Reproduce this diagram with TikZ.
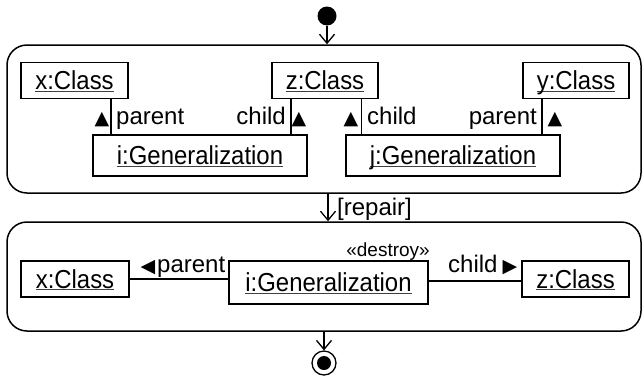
\documentclass[tikz,border=0pt]{standalone}
\usepackage{fontspec}
\setmainfont{Liberation Sans}
\newfontfamily\objfont[FakeStretch=0.92]{Liberation Sans}
\newfontfamily\trifont{DejaVu Sans}
\usetikzlibrary{arrows.meta}
\newsavebox{\ulbox}
\newcommand{\uln}[1]{\sbox{\ulbox}{#1}\rlap{\color{black!75}\rule[-2.4pt]{\wd\ulbox}{1.3pt}}\usebox{\ulbox}}
\begin{document}
\begin{tikzpicture}[x=1pt,y=-1pt,
  obj/.style={draw, line width=1.6pt, inner sep=0pt, text height=20pt, text depth=2pt,
              font=\objfont\fontsize{26}{29}\selectfont},
  cont/.style={draw, line width=1.5pt, rounded corners=20pt, inner sep=0pt},
  lbl/.style={inner sep=0pt, font=\fontsize{24}{28}\selectfont},
  tri/.style={inner sep=0pt, font=\trifont\fontsize{19}{19}\selectfont},
  flow/.style={line width=1.3pt, -{Straight Barb[length=9pt,width=15pt]}},
  link/.style={line width=1.5pt}]
\useasboundingbox (0,0) rectangle (644,378);
% containers
\node[cont, minimum width=634pt, minimum height=148pt] (top) at (324,119) {};
\node[cont, minimum width=634pt, minimum height=109pt] (bot) at (324,276.5) {};
% initial and final
\node[circle, fill, minimum size=19pt, inner sep=0pt] (init) at (327,16) {};
\node[circle, draw, line width=1.3pt, minimum size=24pt, inner sep=0pt] (fin) at (324,363) {};
\node[circle, fill, minimum size=14pt, inner sep=0pt] (finin) at (fin) {};
% top objects
\node[obj, minimum width=107pt, minimum height=36pt] (x1) at (74.5,80.5) {\uln{x:Class}};
\node[obj, minimum width=106pt, minimum height=36pt] (z1) at (325,80.5) {\uln{z:Class}};
\node[obj, minimum width=106pt, minimum height=36pt] (y1) at (576,80.5) {\uln{y:Class}};
\node[obj, minimum width=214pt, minimum height=41pt] (i1) at (200,155.5) {\uln{i:Generalization}};
\node[obj, minimum width=214pt, minimum height=41pt] (j1) at (453,155.5) {\uln{j:Generalization}};
\draw[link] ([xshift=36.5pt]x1.south) coordinate (a1) -- (a1 |- i1.north);
\draw[link] ([xshift=-34pt]z1.south) coordinate (a2) -- (a2 |- i1.north);
\draw[link] ([xshift=36.5pt]z1.south) coordinate (a3) -- (a3 |- j1.north);
\draw[link] ([xshift=-34pt]y1.south) coordinate (a4) -- (a4 |- j1.north);
\node[tri, anchor=base] (t1) at (102,124) {▲};
\node[lbl, anchor=base west] (l1) at (116,124) {parent};
\node[lbl, anchor=base east] (l2) at (286,124) {child};
\node[tri, anchor=base] (t2) at (299,124) {▲};
\node[tri, anchor=base] (t3) at (351,124) {▲};
\node[lbl, anchor=base west] (l3) at (367,124) {child};
\node[lbl, anchor=base east] (l4) at (537,124) {parent};
\node[tri, anchor=base] (t4) at (555,124) {▲};
% bottom objects
\node[obj, minimum width=108pt, minimum height=36pt] (x2) at (75,279) {\uln{x:Class}};
\node[obj, minimum width=199pt, minimum height=43pt] (i2) at (328.5,282.5) {\uln{i:Generalization}};
\node[obj, minimum width=107pt, minimum height=36pt] (z2) at (575.5,279) {\uln{z:Class}};
\draw[link] (x2.east) -- (x2.east -| i2.west);
\draw[link] ([yshift=1.5pt]i2.east) coordinate (b1) -- (b1 -| z2.west);
\node[tri, anchor=base] (t5) at (148,272) {◀};
\node[lbl, anchor=base west] (l5) at (157,272) {parent};
\node[lbl, anchor=base west] (l6) at (448,272) {child};
\node[tri, anchor=base] (t6) at (510,272) {▶};
\node[lbl, font=\fontsize{19}{21}\selectfont, anchor=base east] (st) at (430,256) {«destroy»};
% flows
\draw[flow] (init) -- (init |- top.north);
\draw[flow] ([xshift=4pt]top.south) -- ([xshift=4pt]bot.north);
\node[lbl, anchor=base west] (rep) at (337,215) {[repair]};
\draw[flow] (bot.south) -- (fin);
\end{tikzpicture}
\end{document}
